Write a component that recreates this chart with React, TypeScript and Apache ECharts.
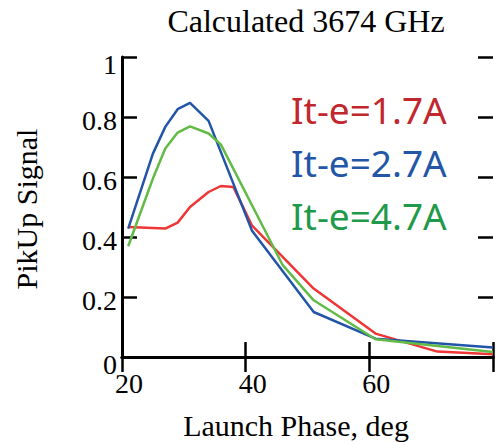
import React, { useEffect, useRef } from "react";
import * as echarts from "echarts";

const xTickLabels = ["20", "40", "60", ""];
const yTickLabels = ["0", "0.2", "0.4", "0.6", "0.8", "1"];

const redPhase = [21, 27, 29, 31, 34, 36, 38, 41, 51, 61, 71, 80];
const redVals = [0.433, 0.428, 0.448, 0.5, 0.55, 0.57, 0.567, 0.439, 0.228, 0.078, 0.018, 0.009];

const bluePhase = [21, 25, 27, 29, 31, 34, 41, 51, 61, 80];
const blueVals = [0.428, 0.678, 0.767, 0.826, 0.847, 0.787, 0.422, 0.15, 0.061, 0.032];

const greenPhase = [21, 25, 27, 29, 31, 34, 36, 46, 51, 61, 80];
const greenVals = [0.369, 0.595, 0.695, 0.748, 0.769, 0.745, 0.708, 0.306, 0.189, 0.059, 0.017];

const legendLabels = ["It-e=1.7A", "It-e=2.7A", "It-e=4.7A"];
const titleText = "Calculated 3674 GHz";
const xName = "Launch Phase, deg";
const yName = "PikUp Signal";

const lineColors = ["#ef3535", "#2255a8", "#62bb46"];
const textColors = ["#c1272d", "#2356a6", "#1e9a4a"];

const pairs = (xs: number[], ys: number[]) => xs.map((x, i) => [x, ys[i]]);

export default function App() {
  const ref = useRef<HTMLDivElement>(null);
  useEffect(() => {
    document.body.style.margin = "0";
    const chart = echarts.init(ref.current!, null, { renderer: "svg" });
    const serif = "'Liberation Serif', 'Times New Roman', serif";
    const axisLine = { show: true, lineStyle: { color: "#000", width: 3 } };
    const axisTick = { show: true, inside: true, length: 15, lineStyle: { color: "#000", width: 2.5 } };
    const labelStyle = { fontFamily: serif, fontSize: 28, color: "#000" };
    const seriesData = [
      pairs(redPhase, redVals),
      pairs(bluePhase, blueVals),
      pairs(greenPhase, greenVals),
    ];
    chart.setOption({
      animation: false,
      grid: { left: 122, top: 57, width: 375, height: 300 },
      xAxis: [
        {
          type: "value", min: 20, max: 80, interval: 20, position: "bottom",
          axisLine, axisTick, splitLine: { show: false },
          axisLabel: {
            ...labelStyle, margin: 12, padding: [0, 0, 0, 14],
            formatter: (v: number) => xTickLabels[Math.round((v - 20) / 20)] ?? "",
          },
        },
        {
          type: "value", min: 20, max: 80, interval: 20, position: "top",
          axisLine, axisTick, splitLine: { show: false }, axisLabel: { show: false },
        },
      ],
      yAxis: [
        {
          type: "value", min: 0, max: 1, interval: 0.2, position: "left",
          axisLine, axisTick, splitLine: { show: false },
          axisLabel: {
            ...labelStyle, margin: 5,
            formatter: (v: number) => {
              const i = Math.round(v / 0.2);
              const t = yTickLabels[i] ?? "";
              return i === 0 || i === 5 ? `{e|${t}}` : `{n|${t}}`;
            },
            rich: {
              e: { ...labelStyle, padding: [14, 0, 0, 0] },
              n: { ...labelStyle, padding: [6, 0, 0, 0] },
            },
          },
        },
        {
          type: "value", min: 0, max: 1, interval: 0.2, position: "right",
          axisLine: { show: false }, axisTick, splitLine: { show: false }, axisLabel: { show: false },
        },
      ],
      series: seriesData.map((d, i) => ({
        type: "line",
        data: d,
        xAxisIndex: 0,
        yAxisIndex: 0,
        symbol: "none",
        showSymbol: false,
        lineStyle: { color: lineColors[i], width: 2.5 },
        itemStyle: { color: lineColors[i] },
        z: 1,
      })),
      graphic: [
        {
          type: "text", x: 306, y: 20.5,
          style: { text: titleText, font: `32px ${serif}`, fill: "#000", align: "center", verticalAlign: "middle", textAlign: "center", textVerticalAlign: "middle" },
        },
        {
          type: "text", x: 296, y: 425,
          style: { text: xName, font: `30px ${serif}`, fill: "#000", align: "center", verticalAlign: "middle", textAlign: "center", textVerticalAlign: "middle" },
        },
        {
          type: "text", x: 26.6, y: 209, rotation: Math.PI / 2,
          style: { text: yName, font: `30px ${serif}`, fill: "#000", align: "center", verticalAlign: "middle", textAlign: "center", textVerticalAlign: "middle" },
        },
        ...legendLabels.map((t, i) => ({
          type: "text", x: 291, y: 109 + i * 53.3,
          style: { text: t, font: `37px 'Noto Sans', sans-serif`, fill: textColors[i], align: "left", verticalAlign: "middle", textAlign: "left", textVerticalAlign: "middle" },
        })),
      ],
    });
    return () => chart.dispose();
  }, []);
  return <div ref={ref} style={{ width: 496, height: 442 }} />;
}
